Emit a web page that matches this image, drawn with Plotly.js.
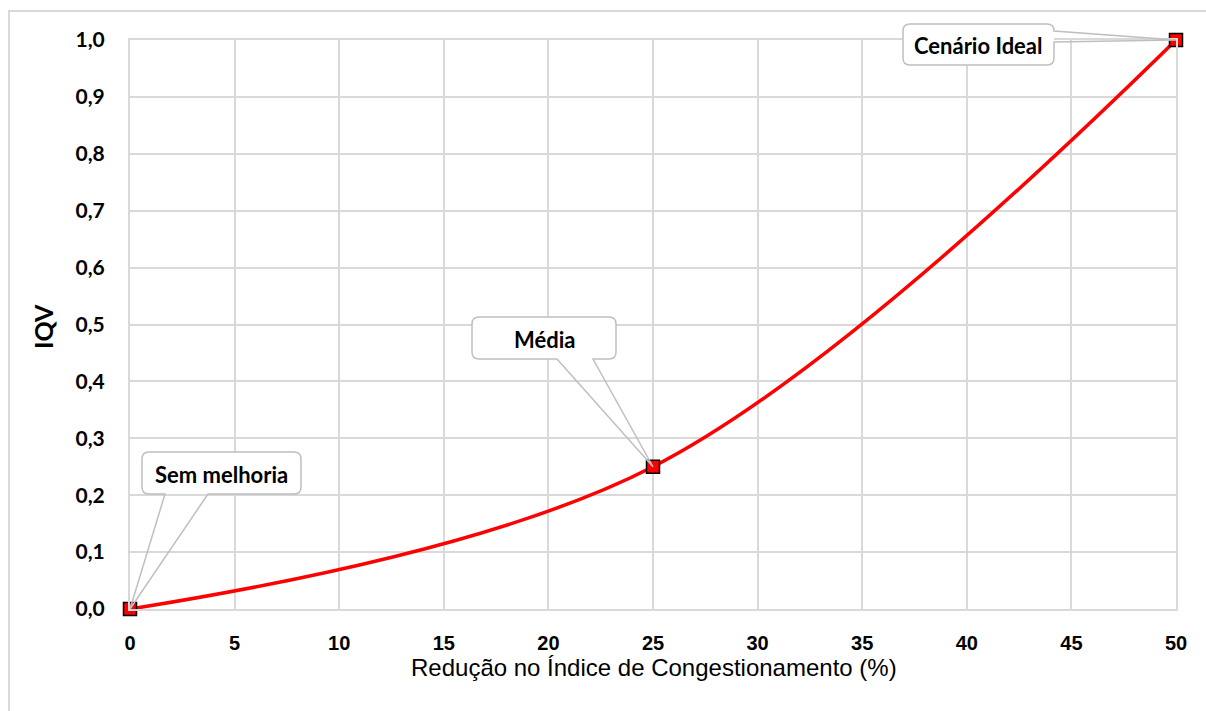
<!DOCTYPE html>
<html>
<head>
<meta charset="utf-8">
<script src="https://cdn.plot.ly/plotly-3.0.1.min.js"></script>
<style>html,body{margin:0;padding:0;background:#fff}#chart{width:1206px;height:711px}</style>
</head>
<body>
<div id="chart"></div>
<script>
// ---- data ----
const reducao = [0, 25, 50];            // Redução no Índice de Congestionamento (%)
const iqv = [0, 0.25, 1.0];             // IQV
const rotulos = ["Sem melhoria", "Média", "Cenário Ideal"];
const xTicks = [0, 5, 10, 15, 20, 25, 30, 35, 40, 45, 50];
const yTicks = [0, 0.1, 0.2, 0.3, 0.4, 0.5, 0.6, 0.7, 0.8, 0.9, 1.0];
const xTitulo = "Redução no Índice de Congestionamento (%)";
const yTitulo = "IQV";

// ---- layout geometry (pixels) ----
const FW = 1206, FH = 711;
const ML = 130, MR = 30, MT = 40, MB = 102;
const PW = FW - ML - MR, PH = FH - MT - MB;
const XR = [0, 50], YR = [0, 1];
const pxX = v => ML + (v - XR[0]) / (XR[1] - XR[0]) * PW;
const pxY = v => MT + PH - (v - YR[0]) / (YR[1] - YR[0]) * PH;
const papX = px => (px - ML) / PW;
const papY = py => (MT + PH - py) / PH;

// callout box definitions in pixels (box) ; tip comes from the data point
const callouts = [
  {i: 0, box: [142, 452, 301, 494], side: "bottom", base: [165, 208]},
  {i: 1, box: [472, 317, 616, 359], side: "bottom", base: [557, 593]},
  {i: 2, box: [903, 24, 1054, 65], side: "right", base: [31, 42]}
];
const R = 7;
function P(x, y) { return papX(x).toFixed(5) + "," + papY(y).toFixed(5); }
function roundRect(b) {
  const [x0, y0, x1, y1] = b;
  return "M" + P(x0 + R, y0) + " L" + P(x1 - R, y0) + " Q" + P(x1, y0) + " " + P(x1, y0 + R) +
    " L" + P(x1, y1 - R) + " Q" + P(x1, y1) + " " + P(x1 - R, y1) +
    " L" + P(x0 + R, y1) + " Q" + P(x0, y1) + " " + P(x0, y1 - R) +
    " L" + P(x0, y0 + R) + " Q" + P(x0, y0) + " " + P(x0 + R, y0) + " Z";
}
function calloutPath(c, tx, ty) {
  const [x0, y0, x1, y1] = c.box;
  let s = "M" + P(x0 + R, y0) + " L" + P(x1 - R, y0) + " Q" + P(x1, y0) + " " + P(x1, y0 + R);
  if (c.side === "right") {
    s += " L" + P(x1, c.base[0]) + " L" + P(tx, ty) + " L" + P(x1, c.base[1]);
  }
  s += " L" + P(x1, y1 - R) + " Q" + P(x1, y1) + " " + P(x1 - R, y1);
  if (c.side === "bottom") {
    s += " L" + P(c.base[1], y1) + " L" + P(tx, ty) + " L" + P(c.base[0], y1);
  }
  s += " L" + P(x0 + R, y1) + " Q" + P(x0, y1) + " " + P(x0, y1 - R) +
    " L" + P(x0, y0 + R) + " Q" + P(x0, y0) + " " + P(x0 + R, y0) + " Z";
  return s;
}

const shapes = [];
const annotations = [];
// outer chart border
shapes.push({type: "rect", xref: "paper", yref: "paper",
  x0: papX(9), x1: papX(1220), y0: papY(725), y1: papY(11),
  line: {color: "#d9d9d9", width: 2}, fillcolor: "rgba(0,0,0,0)", layer: "below"});

callouts.forEach(c => {
  const tx = pxX(reducao[c.i]), ty = pxY(iqv[c.i]);
  shapes.push({type: "path", xref: "paper", yref: "paper", path: roundRect(c.box),
    fillcolor: "#ffffff", line: {width: 0}, layer: "above"});
  shapes.push({type: "path", xref: "paper", yref: "paper", path: calloutPath(c, tx, ty),
    fillcolor: "rgba(0,0,0,0)", line: {color: "#bfbfbf", width: 1.5}, layer: "above"});
  annotations.push({xref: "paper", yref: "paper",
    x: papX((c.box[0] + c.box[2]) / 2), y: papY((c.box[1] + c.box[3]) / 2 + 1),
    xanchor: "center", yanchor: "middle", showarrow: false, text: rotulos[c.i],
    font: {family: "Lato, 'Open Sans', sans-serif", size: 22, color: "#000", weight: 700}});
});

annotations.push({xref: "paper", yref: "paper", x: papX(654), y: papY(667),
  xanchor: "center", yanchor: "middle", showarrow: false, text: xTitulo,
  font: {family: "'Liberation Sans', Arial, sans-serif", size: 24, color: "#000"}});
annotations.push({xref: "paper", yref: "paper", x: papX(43), y: papY(327),
  xanchor: "center", yanchor: "middle", showarrow: false, text: "<b>" + yTitulo + "</b>",
  textangle: -90,
  font: {family: "Lato, 'Open Sans', sans-serif", size: 25, color: "#000"}});

const trace = {
  x: reducao, y: iqv, type: "scatter", mode: "lines+markers",
  line: {color: "#ff0000", width: 3.5, shape: "spline", smoothing: 1},
  marker: {symbol: "square", size: 13, color: "#ff0000", line: {color: "#000", width: 1.5}},
  cliponaxis: false, hoverinfo: "skip"
};

const layout = {
  width: FW, height: FH,
  margin: {l: ML, r: MR, t: MT, b: MB, pad: 0},
  paper_bgcolor: "#fff", plot_bgcolor: "#fff",
  separators: ",.",
  showlegend: false,
  xaxis: {range: XR, tickvals: xTicks, ticktext: xTicks.map(String), showgrid: true,
    gridcolor: "#d9d9d9", gridwidth: 2, zeroline: false, showline: true, linecolor: "#d9d9d9",
    linewidth: 2, mirror: true, ticks: "", ticklabelstandoff: 15,
    tickfont: {family: "'Liberation Sans', Arial, sans-serif", size: 20, color: "#000", weight: 700}},
  yaxis: {range: YR, tickvals: yTicks, tickformat: ".1f", showgrid: true,
    gridcolor: "#d9d9d9", gridwidth: 2, zeroline: false, showline: true, linecolor: "#d9d9d9",
    linewidth: 2, mirror: true, ticks: "", ticklabelstandoff: 19,
    tickfont: {family: "Lato, 'Open Sans', sans-serif", size: 21, color: "#000", weight: 700}},
  shapes: shapes,
  annotations: annotations
};

Plotly.newPlot("chart", [trace], layout, {displayModeBar: false, staticPlot: true});
</script>
</body>
</html>
